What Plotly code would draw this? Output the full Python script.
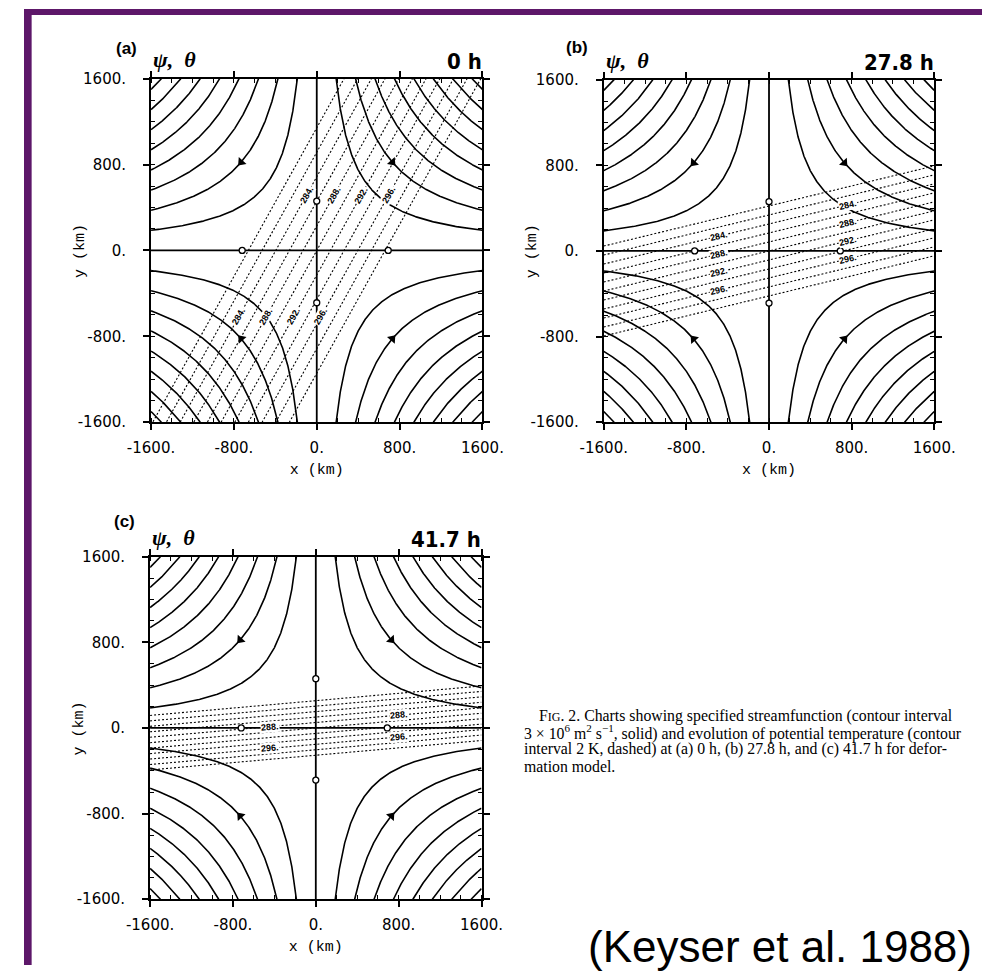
import numpy as np
import plotly.graph_objects as go

# ------------------------------------------------------------------ data
panel_tags = ["(a)", "(b)", "(c)"]
panel_time_h = [0.0, 27.8, 41.7]
panel_time_text = ["0 h", "27.8 h", "41.7 h"]

strain_rate = 1.0e-5          # s^-1  (psi = strain * x * y)
psi_interval = 3.0            # 1e6 m2 s-1
psi_levels = [1, 2, 3, 4, 5, 6, 7, 8]   # multiples of the interval

theta_origin = 290.0          # K at (0,0)
theta_xgrad0 = 2.0 / 132.0    # K per km along x at 0 h
theta_angle0_deg = 60.0       # initial isentrope orientation
theta_levels = [280, 282, 284, 286, 288, 290, 292, 294, 296, 298, 300]

# isentrope label placement (levels and positions)
label_levels = [[284, 288, 292, 296], [284, 288, 292, 296], [288, 296]]
label_rows_y_a = [517.0, -614.0]          # panel (a): labels along rows of y
label_cols_x = [None, [-480.0, 766.0], [-438.0, 800.0]]  # panels (b),(c)

zero_label_x = [-720.0, 690.0]
zero_label_y = [460.0, -487.0]
arrow_x = [-730.0, 730.0, -730.0, 730.0]
arrow_ysign = [1, 1, -1, -1]
arrow_level = 2               # arrows sit on the second contour

tick_vals = [-1600, -800, 0, 800, 1600]
tick_text = ["-1600.", "-800.", "0.", "800.", "1600."]
x_title = "x (km)"
y_title = "y (km)"

caption_lines = [
    "F<span style='font-size:12px'>IG</span>. 2. Charts showing specified streamfunction (contour interval",
    "3 × 10<sup>6</sup> m<sup>2</sup> s<sup>−1</sup>, solid) and evolution of potential temperature (contour",
    "interval 2 K, dashed) at (a) 0 h, (b) 27.8 h, and (c) 41.7 h for defor-",
    "mation model.",
]
citation = "(Keyser et al. 1988)"

# ------------------------------------------------------------------ layout geometry
W, H = 1003, 974
L = 1600.0
panel_px = [(133, 480, 71, 421), (607, 953, 72, 421), (132, 479, 558, 907)]
tag_pos = [(-0.037, 1.089), (-0.043, 1.094), (-0.04, 1.103)]

fig = go.Figure()
annotations = []

for i in range(3):
    xa = "x" if i == 0 else f"x{i+1}"
    ya = "y" if i == 0 else f"y{i+1}"
    at = strain_rate * panel_time_h[i] * 3600.0
    gx = theta_xgrad0 * np.exp(-at)
    gy = -theta_xgrad0 / np.tan(np.radians(theta_angle0_deg)) * np.exp(at)

    # streamfunction contours: strain*x*y = +-k*interval  ->  hyperbolae
    hx, hy = [], []
    for k in psi_levels:
        c = k * psi_interval / strain_rate           # km^2
        xs = np.geomspace(c / L, L, 240)
        for sx in (-1, 1):
            for sy in (-1, 1):
                hx += list(sx * xs) + [None]
                hy += list(sy * c / xs) + [None]
    fig.add_trace(go.Scatter(x=hx, y=hy, mode="lines", line=dict(color="black", width=1.6),
                             xaxis=xa, yaxis=ya, hoverinfo="skip", showlegend=False))

    # isentropes: theta = const straight lines
    tx_, ty_ = [], []
    xe = np.array([-L, L])
    for lv in theta_levels:
        ye = (lv - theta_origin - gx * xe) / gy
        tx_ += list(xe) + [None]
        ty_ += list(ye) + [None]
    fig.add_trace(go.Scatter(x=tx_, y=ty_, mode="lines",
                             line=dict(color="black", width=1.1, dash="2px,2px"),
                             xaxis=xa, yaxis=ya, hoverinfo="skip", showlegend=False))

    # zero streamline (axes of dilatation / contraction)
    fig.add_trace(go.Scatter(x=[-L, L, None, 0, 0], y=[0, 0, None, -L, L], mode="lines",
                             line=dict(color="black", width=1.8),
                             xaxis=xa, yaxis=ya, hoverinfo="skip", showlegend=False))
    zx = zero_label_x + [0, 0]
    zy = [0, 0] + zero_label_y
    fig.add_trace(go.Scatter(x=zx, y=zy, mode="markers",
                             marker=dict(symbol="circle", size=6, color="white",
                                         line=dict(color="black", width=1.3)),
                             xaxis=xa, yaxis=ya, hoverinfo="skip", showlegend=False))
    # flow arrows (u = a x, v = -a y)
    ax_, ay_, ang = [], [], []
    c2 = arrow_level * psi_interval / strain_rate
    for xv, sg in zip(arrow_x, arrow_ysign):
        yv = sg * c2 / abs(xv)
        u, v = xv, -yv
        ax_.append(xv); ay_.append(yv)
        ang.append(np.degrees(np.arctan2(u, v)))
    fig.add_trace(go.Scatter(x=ax_, y=ay_, mode="markers",
                             marker=dict(symbol="triangle-up", size=9, color="black",
                                         angle=ang),
                             xaxis=xa, yaxis=ya, hoverinfo="skip", showlegend=False))

    # isentrope labels
    x0, x1, y0, y1 = panel_px[i]
    kx = (x1 - x0) / 3200.0
    ky = (y1 - y0) / 3200.0
    slope_px = (-gx / gy) * ky / kx
    tangle = -np.degrees(np.arctan(slope_px))
    if i == 0:
        pts = [((lv - theta_origin - gy * yr) / gx, yr)
               for yr in label_rows_y_a for lv in label_levels[i]]
        labs = [lv for yr in label_rows_y_a for lv in label_levels[i]]
    else:
        pts = [(xc, (lv - theta_origin - gx * xc) / gy)
               for xc in label_cols_x[i] for lv in label_levels[i]]
        labs = [lv for xc in label_cols_x[i] for lv in label_levels[i]]
    for (px, py), lv in zip(pts, labs):
        annotations.append(dict(x=px, y=py, xref=xa, yref=ya, text=f"<b>{lv}.</b>",
                                showarrow=False, textangle=tangle, bgcolor="white",
                                borderpad=0,
                                font=dict(family="Liberation Sans", size=9, color="black")))

    # headers
    xd, yd = f"{xa} domain", f"{ya} domain"
    tx, ty = tag_pos[i]
    annotations.append(dict(x=tx, y=ty, xref=xd, yref=yd, text=f"<b>{panel_tags[i]}</b>",
                            showarrow=False, xanchor="right", yanchor="middle",
                            font=dict(family="Liberation Sans", size=17, color="black")))
    annotations.append(dict(x=0.0, y=1.055, xref=xd, yref=yd, text="<i><b>ψ,  θ</b></i>",
                            showarrow=False, xanchor="left", yanchor="middle",
                            font=dict(family="Liberation Serif", size=22, color="black")))
    annotations.append(dict(x=1.005, y=1.05, xref=xd, yref=yd, text=f"<b>{panel_time_text[i]}</b>",
                            showarrow=False, xanchor="right", yanchor="middle",
                            font=dict(family="DejaVu Sans Condensed", size=22, color="black")))
    annotations.append(dict(x=-0.213, y=0.5, xref=xd, yref=yd, text=y_title,
                            showarrow=False, xanchor="center", yanchor="middle", textangle=-90,
                            font=dict(family="Liberation Mono", size=15, color="black")))

    title_font = dict(family="Liberation Mono", size=15, color="black")
    axis_common = dict(range=[-L, L], tickvals=tick_vals, ticktext=tick_text,
                       ticks="outside", ticklen=6, tickwidth=2, tickcolor="black",
                       showline=True, linewidth=2, linecolor="black", mirror="ticks",
                       showgrid=False, zeroline=False, fixedrange=True,
                       tickfont=dict(family="DejaVu Sans", size=15, color="black"),
                       minor=dict(dtick=200, ticks="inside", ticklen=4, tickwidth=1.2,
                                  tickcolor="black", showgrid=False))
    fig.update_layout(**{
        ("xaxis" if i == 0 else f"xaxis{i+1}"): dict(
            domain=[x0 / W, x1 / W], anchor=ya, ticklabelstandoff=5,
            title=dict(text=x_title, font=title_font, standoff=7), **axis_common),
        ("yaxis" if i == 0 else f"yaxis{i+1}"): dict(
            domain=[1 - y1 / H, 1 - y0 / H], anchor=xa, ticklabelstandoff=14,
            **axis_common),
    })

# caption
cap_x = [537, 521, 521, 521]
cap_y = [720, 737, 754, 772]
for t, cx, cy in zip(caption_lines, cap_x, cap_y):
    annotations.append(dict(x=cx / W, y=1 - cy / H, xref="paper", yref="paper", text=t,
                            showarrow=False, xanchor="left", yanchor="middle",
                            font=dict(family="Liberation Serif", size=15.8, color="black")))
annotations.append(dict(x=791 / W, y=1 - 955 / H, xref="paper", yref="paper", text=citation,
                        showarrow=False, xanchor="center", yanchor="middle",
                        font=dict(family="Liberation Sans", size=44, color="black")))

# purple slide border
shapes = [
    dict(type="rect", xref="paper", yref="paper", x0=0, x1=8 / W, y0=0, y1=1,
         fillcolor="#5d1769", line=dict(width=0), layer="above"),
    dict(type="rect", xref="paper", yref="paper", x0=0, x1=1, y0=1 - 6 / H, y1=1,
         fillcolor="#5d1769", line=dict(width=0), layer="above"),
]

fig.update_layout(width=W, height=H, margin=dict(l=0, r=0, t=0, b=0),
                  paper_bgcolor="white", plot_bgcolor="white", showlegend=False,
                  annotations=annotations, shapes=shapes)
fig.write_html("out.html")
